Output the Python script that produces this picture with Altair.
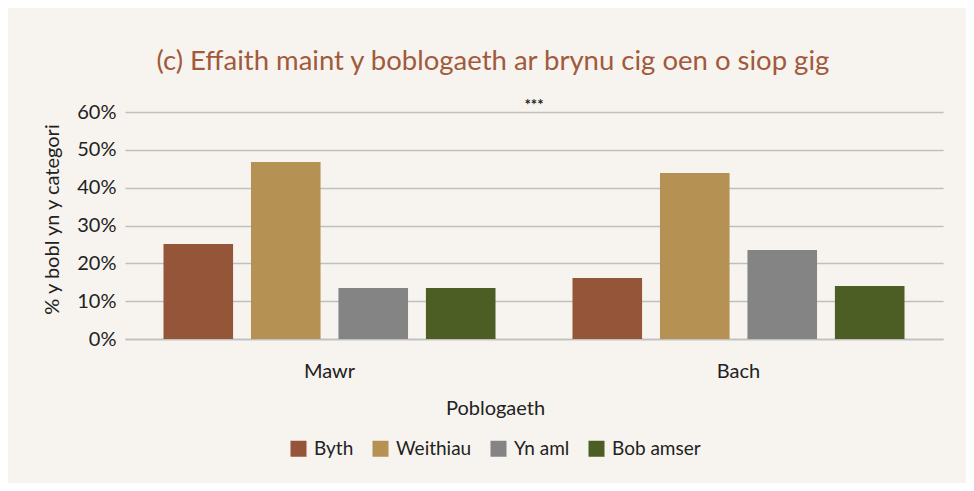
import altair as alt
import pandas as pd

groups = ["Mawr", "Bach"]
categories = ["Byth", "Weithiau", "Yn aml", "Bob amser"]
mawr = [25.1, 46.8, 13.5, 13.5]
bach = [16.1, 43.9, 23.5, 14.0]
colors = ["#955538", "#B59154", "#848484", "#4D5E24"]
y_ticks = [0, 0.1, 0.2, 0.3, 0.4, 0.5, 0.6]
sig_label = "***"
sig_y = 0.618

rows = []
for g, vals in zip(groups, [mawr, bach]):
    for c, v in zip(categories, vals):
        rows.append({"g": g, "c": c, "v": v / 100})
df = pd.DataFrame(rows)
ann = pd.DataFrame({"g": ["Mawr"], "y": [sig_y], "t": [sig_label]})

FONT = "Lato"
TXT = "#222222"
GRID = "#BFBFBF"
FS = 20

x_axis = alt.Axis(labelAngle=0, ticks=False, domain=True, domainColor=GRID,
                  domainWidth=1.5, labelPadding=22, titlePadding=17,
                  titleX=370, titleAlign="center",
                  labelFontSize=FS, titleFontSize=FS, labelColor=TXT,
                  titleColor=TXT, titleFontWeight="normal", labelFont=FONT,
                  titleFont=FONT)
y_axis = alt.Axis(values=y_ticks, format=".0%", ticks=False, domain=False,
                  labelOverlap=False, titleY=107,
                  gridColor=GRID, gridWidth=1.5, labelPadding=9,
                  titlePadding=14, labelFontSize=FS, titleFontSize=FS,
                  labelColor=TXT, titleColor=TXT, titleFontWeight="normal",
                  labelFont=FONT, titleFont=FONT)
x_scale = alt.Scale(paddingInner=0, paddingOuter=alt.ExprRef(expr="-0.0156"))
y_scale = alt.Scale(domain=[0, 0.6], nice=False)

bars = alt.Chart(df).mark_bar().encode(
    x=alt.X("g:N", sort=groups, title="Poblogaeth", scale=x_scale, axis=x_axis),
    xOffset=alt.XOffset("c:N", sort=categories,
                        scale=alt.Scale(paddingInner=0.2045, paddingOuter=0.44)),
    y=alt.Y("v:Q", title="% y bobl yn y categori", scale=y_scale, axis=y_axis),
    color=alt.Color("c:N", sort=categories, title=None,
                    scale=alt.Scale(domain=categories, range=colors),
                    legend=alt.Legend(orient="none", direction="horizontal",
                                      legendX=164, legendY=327,
                                      symbolType="square", symbolSize=256,
                                      symbolStrokeWidth=0, labelFontSize=19,
                                      labelFont=FONT, labelColor=TXT,
                                      labelOffset=6, columnPadding=17)),
)

sig = alt.Chart(ann).mark_text(fontSize=15, fontWeight="bold", color=TXT,
                               baseline="middle", font=FONT).encode(
    x=alt.X("g:N", sort=groups, bandPosition=1, title="Poblogaeth",
            scale=x_scale, axis=x_axis),
    y=alt.Y("y:Q", title="% y bobl yn y categori", scale=y_scale, axis=y_axis),
    text="t:N",
)

chart = alt.layer(bars, sig).properties(
    width=818, height=227,
    padding={"left": 117, "top": 104, "right": 23, "bottom": 144},
    autosize=alt.AutoSizeParams(type="none"),
    background="#F7F4EF",
    title=alt.Title("(c) Effaith maint y boblogaeth ar brynu cig oen o siop gig",
                    fontSize=27.5, font=FONT, color="#A15A3C", fontWeight="normal",
                    anchor="middle", frame="bounds", offset=23),
).configure_view(stroke=None)

chart.save("out.html", embed_options={"renderer": "svg", "actions": False})
